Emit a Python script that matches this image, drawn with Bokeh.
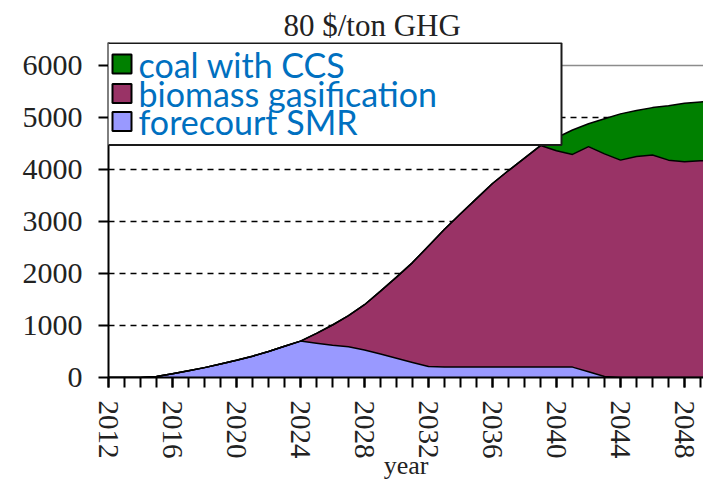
import numpy as np
from bokeh.plotting import figure
from bokeh.models import ColumnDataSource, FixedTicker, Range1d, Span, BoxAnnotation, Label
from bokeh.embed import file_html
from bokeh.resources import INLINE

# ---------------- data ----------------
years = list(range(2012, 2051))
forecourt_smr = [0, 0, 0, 20, 70, 130, 190, 260, 330, 410, 500, 600, 700,
                 660, 620, 590, 530, 450, 370, 290, 210,
                 200, 200, 200, 200, 200, 200, 200, 200, 200,
                 110, 20,
                 0, 0, 0, 0, 0, 0, 0]
biomass_gasification = [0] * 13 + [190, 390, 600, 870, 1210, 1560, 1920, 2320, 2650,
                                   2950, 3240, 3530, 3780, 4020, 4260, 4160, 4090,
                                   4330, 4280, 4180, 4250, 4280, 4180, 4150, 4170, 4170]
coal_with_ccs = [0] * 28 + [250, 470, 440, 675, 890, 885, 910, 1045, 1125, 1130, 1150]

series_keys = ["smr", "bio", "coal"]
series_names = ["forecourt SMR", "biomass  gasification", "coal with CCS"]
series_colors = ["#9999FF", "#993366", "#008000"]
title_text = "80 $/ton GHG"
x_label = "year"
x_major_ticks = list(range(2012, 2049, 4))
x_minor_ticks = list(range(2012, 2051))
y_ticks = list(range(0, 6001, 1000))
grid_ticks = list(range(1000, 6000, 1000))

# ---------------- layout numbers (pixels) ----------------
W, H = 703, 482
frame_left, frame_top, frame_bottom = 108, 42, 377
px_per_year = 16.0
px_per_unit = 312 / 6000.0   # 6000 sits 312 px above the x axis

src = ColumnDataSource(dict(year=years, smr=forecourt_smr,
                            bio=biomass_gasification, coal=coal_with_ccs))
cum1 = np.array(forecourt_smr)
cum2 = cum1 + np.array(biomass_gasification)
cum3 = cum2 + np.array(coal_with_ccs)

p = figure(width=W, height=H, output_backend="svg", toolbar_location=None,
           x_range=Range1d(2012, 2012 + (W - frame_left) / px_per_year),
           y_range=Range1d(0, (frame_bottom - frame_top) / px_per_unit),
           min_border_left=frame_left, min_border_right=0, min_border_top=frame_top,
           min_border_bottom=H - frame_bottom)
p.outline_line_color = None
p.background_fill_color = "white"
p.border_fill_color = "white"

p.varea_stack(stackers=series_keys, x="year", color=series_colors, source=src)
for cum in (cum1, cum2, cum3):
    p.line(years, cum, line_color="black", line_width=1.5)

# grid
p.xgrid.visible = False
p.ygrid.ticker = FixedTicker(ticks=grid_ticks)
p.ygrid.grid_line_color = "black"
p.ygrid.grid_line_dash = "6 5"
p.ygrid.grid_line_width = 1.3
p.ygrid.level = "underlay"
p.add_layout(Span(location=6000, dimension="width", line_color="#8c8c8c", line_width=1.5))

# title
serif = "Liberation Serif"
p.title.text = title_text
p.title.text_font = serif
p.title.text_font_size = "31px"
p.title.text_font_style = "normal"
p.title.text_color = "#222222"
p.title.align = "left"
p.title.offset = 175
p.title.standoff = 0

# axes
xa = p.xaxis[0]
xa.ticker = FixedTicker(ticks=x_major_ticks, minor_ticks=x_minor_ticks)
xa.major_label_orientation = "vertical"
xa.axis_label = x_label
ya = p.yaxis[0]
ya.ticker = FixedTicker(ticks=y_ticks)
for ax in (xa, ya):
    ax.axis_line_color = "black"
    ax.axis_line_width = 2
    ax.major_tick_line_color = "black"
    ax.major_tick_line_width = 2
    ax.major_tick_out = 10
    ax.major_tick_in = 0
    ax.major_label_text_font = serif
    ax.major_label_text_color = "#222222"
    ax.axis_label_text_font = serif
    ax.axis_label_text_font_style = "normal"
    ax.axis_label_text_color = "#222222"
ya.major_label_text_font_size = "30px"
xa.major_label_text_font_size = "29px"
xa.axis_label_text_font_size = "26px"
xa.minor_tick_line_color = "black"
xa.minor_tick_line_width = 2
xa.minor_tick_out = 10
xa.minor_tick_in = 0
xa.major_label_standoff = 13
xa.axis_label_standoff = -11
ya.minor_tick_line_color = None
ya.major_label_standoff = 16

# legend (screen units: x from frame left, y up from frame bottom)
def sx(px):
    return px - frame_left

def sy(py):
    return frame_bottom - py

p.add_layout(BoxAnnotation(left=sx(92), right=sx(561), top=sy(42.5), bottom=sy(144.5),
                           left_units="screen", right_units="screen",
                           top_units="screen", bottom_units="screen",
                           fill_color="white", fill_alpha=1.0,
                           line_color="#1a1a1a", line_width=2, line_alpha=1.0,
                           level="overlay"))
row_centers = [63.5, 93.0, 121.0]
order = [2, 1, 0]
for c, i in zip(row_centers, order):
    p.add_layout(BoxAnnotation(left=sx(112), right=sx(131), top=sy(c - 9.5), bottom=sy(c + 9.5),
                               left_units="screen", right_units="screen",
                               top_units="screen", bottom_units="screen",
                               fill_color=series_colors[i], fill_alpha=1.0,
                               line_color="black", line_width=2, line_alpha=1.0,
                               level="overlay"))
    p.add_layout(Label(x=sx(138), y=sy(c), x_units="screen", y_units="screen",
                       text=series_names[i], text_font="Lato", text_font_size="34px",
                       text_color="#0070C0", text_baseline="middle",
                       level="overlay"))

open("out.html", "w").write(file_html(p, INLINE))
